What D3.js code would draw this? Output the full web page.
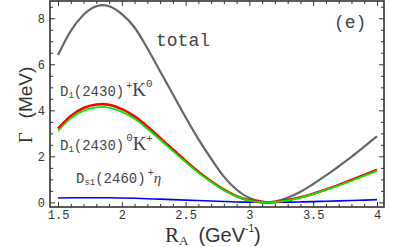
<!DOCTYPE html>
<html>
<head>
<meta charset="utf-8">
<script src="https://cdn.jsdelivr.net/npm/d3@7"></script>
<style>
  body { margin: 0; background: #fff; }
  svg { display: block; }
  .tick text { font-family: "Liberation Mono", "DejaVu Sans Mono", monospace; font-size: 12px; fill: #333; }
  .domain { display: none; }
  .tick line { stroke: #333; stroke-width: 1; }
</style>
</head>
<body>
<script>
var R = [1.5, 1.6, 1.7, 1.8, 1.85, 1.9, 2.0, 2.1, 2.2, 2.3, 2.4, 2.5, 2.6, 2.7, 2.8, 2.9, 3.0, 3.1, 3.15, 3.2, 3.3, 3.4, 3.5, 3.6, 3.7, 3.8, 3.9, 4.0];
var total = [6.4, 7.45, 8.15, 8.52, 8.57, 8.52, 8.18, 7.6, 6.7, 5.7, 4.7, 3.7, 2.75, 1.9, 1.12, 0.55, 0.19, 0.03, 0.0, 0.04, 0.2, 0.46, 0.8, 1.17, 1.57, 1.98, 2.42, 2.87];
var d1plus = [3.2, 3.75, 4.1, 4.25, 4.27, 4.24, 4.05, 3.74, 3.3, 2.8, 2.3, 1.8, 1.33, 0.92, 0.55, 0.27, 0.09, 0.01, 0.0, 0.02, 0.1, 0.22, 0.38, 0.56, 0.76, 0.97, 1.19, 1.42];
var d1zero = [3.1, 3.65, 3.99, 4.13, 4.15, 4.12, 3.93, 3.63, 3.2, 2.72, 2.23, 1.75, 1.29, 0.89, 0.53, 0.26, 0.08, 0.01, 0.0, 0.02, 0.09, 0.21, 0.36, 0.54, 0.73, 0.94, 1.15, 1.37];
var ds1 = [0.19, 0.2, 0.205, 0.205, 0.203, 0.2, 0.19, 0.18, 0.16, 0.14, 0.12, 0.1, 0.08, 0.06, 0.04, 0.02, 0.01, 0.002, 0.0, 0.003, 0.01, 0.02, 0.035, 0.05, 0.065, 0.08, 0.1, 0.12];
var xTicks = [1.5, 2, 2.5, 3, 3.5, 4];
var xTickLabels = ["1.5", "2", "2.5", "3", "3.5", "4"];
var yTicks = [0, 2, 4, 6, 8];

var width = 400, height = 247;
var pL = 50, pR = 384, pT = 1, pB = 207;

var x = d3.scaleLinear().domain([1.437, 4.055]).range([pL, pR]);
var y = d3.scaleLinear().domain([-0.2, 8.75]).range([pB, pT]);

var svg = d3.select("body").append("svg")
    .attr("width", width)
    .attr("height", height);

var xMinor = d3.range(15, 41).map(function(d){ return d / 10; }).filter(function(d){ return xTicks.indexOf(d) < 0; });
var yMinor = d3.range(0, 18).map(function(d){ return d / 2; }).filter(function(d){ return yTicks.indexOf(d) < 0; });

// bottom axis
svg.append("g").attr("transform", "translate(0," + pB + ")")
    .call(d3.axisBottom(x).tickValues(xTicks).tickSizeInner(-5).tickSizeOuter(0).tickPadding(3)
        .tickFormat(function(d, i){ return xTickLabels[i]; }));
svg.append("g").attr("transform", "translate(0," + pB + ")")
    .call(d3.axisBottom(x).tickValues(xMinor).tickSizeInner(-3).tickSizeOuter(0).tickFormat(""));
// top axis
svg.append("g").attr("transform", "translate(0," + pT + ")")
    .call(d3.axisTop(x).tickValues(xTicks).tickSizeInner(-5).tickSizeOuter(0).tickFormat(""));
svg.append("g").attr("transform", "translate(0," + pT + ")")
    .call(d3.axisTop(x).tickValues(xMinor).tickSizeInner(-3).tickSizeOuter(0).tickFormat(""));
// left axis
svg.append("g").attr("transform", "translate(" + pL + ",0)")
    .call(d3.axisLeft(y).tickValues(yTicks).tickSizeInner(-5).tickSizeOuter(0).tickPadding(5));
svg.append("g").attr("transform", "translate(" + pL + ",0)")
    .call(d3.axisLeft(y).tickValues(yMinor).tickSizeInner(-3).tickSizeOuter(0).tickFormat(""));
// right axis
svg.append("g").attr("transform", "translate(" + pR + ",0)")
    .call(d3.axisRight(y).tickValues(yTicks).tickSizeInner(-5).tickSizeOuter(0).tickFormat(""));
svg.append("g").attr("transform", "translate(" + pR + ",0)")
    .call(d3.axisRight(y).tickValues(yMinor).tickSizeInner(-3).tickSizeOuter(0).tickFormat(""));

// frame
svg.append("rect")
    .attr("x", pL).attr("y", pT)
    .attr("width", pR - pL).attr("height", pB - pT)
    .attr("fill", "none").attr("stroke", "#333").attr("stroke-width", 1.6);

var line = d3.line()
    .x(function(d, i){ return x(R[i]); })
    .y(function(d){ return y(d); })
    .curve(d3.curveMonotoneX);

var series = [
    { v: ds1, color: "#0000ff", w: 1.6 },
    { v: total, color: "#666666", w: 2.2 },
    { v: d1plus, color: "#ff0000", w: 2.6 },
    { v: d1zero, color: "#00ee00", w: 1.8 }
];
series.forEach(function(s){
    svg.append("path")
        .datum(s.v)
        .attr("fill", "none")
        .attr("stroke", s.color)
        .attr("stroke-width", s.w)
        .attr("d", line);
});

var mono = "'Liberation Mono', 'DejaVu Sans Mono', monospace";
var serif = "'Liberation Serif', 'DejaVu Serif', serif";
var sans = "'Liberation Sans', Arial, sans-serif";

function label(xp, yp){
    return svg.append("text").attr("x", xp).attr("y", yp).attr("fill", "#444")
        .attr("font-family", mono).attr("font-size", 14);
}

label(156, 46).attr("font-size", 18).text("total");
label(334, 28).attr("font-size", 18).text("(e)");

var t1 = label(60, 96);
t1.append("tspan").text("D");
t1.append("tspan").attr("font-size", 9).attr("dy", 2).text("1");
t1.append("tspan").attr("dy", -2).text("(2430)");
t1.append("tspan").attr("font-size", 10).attr("dy", -7).attr("dx", 2).text("+");
t1.append("tspan").attr("font-family", serif).attr("font-size", 19).attr("dy", 7).text("K");
t1.append("tspan").attr("font-size", 11).attr("dy", -9).text("0");

var t2 = label(60, 150);
t2.append("tspan").text("D");
t2.append("tspan").attr("font-size", 9).attr("dy", 2).text("1");
t2.append("tspan").attr("dy", -2).text("(2430)");
t2.append("tspan").attr("font-size", 11).attr("dy", -9).attr("dx", 2).text("0");
t2.append("tspan").attr("font-family", serif).attr("font-size", 19).attr("dy", 9).text("K");
t2.append("tspan").attr("font-size", 10).attr("dy", -8).text("+");

var t3 = label(76, 183);
t3.append("tspan").text("D");
t3.append("tspan").attr("font-size", 9).attr("dy", 2).text("s1");
t3.append("tspan").attr("dy", -2).text("(2460)");
t3.append("tspan").attr("font-size", 10).attr("dy", -7).attr("dx", 2).text("+");
t3.append("tspan").attr("font-family", serif).attr("font-style", "italic").attr("font-size", 15).attr("dy", 7).text("\u03b7");

// axis titles
var yt = svg.append("text").attr("transform", "translate(32,105) rotate(-90)")
    .attr("text-anchor", "middle").attr("fill", "#333");
yt.append("tspan").attr("font-family", serif).attr("font-size", 19).text("\u0393");
yt.append("tspan").attr("font-family", sans).attr("font-size", 19).attr("dx", 14).text("(MeV)");

var xt = svg.append("text").attr("x", 165).attr("y", 242).attr("fill", "#333");
xt.append("tspan").attr("font-family", serif).attr("font-size", 21).text("R");
xt.append("tspan").attr("font-family", serif).attr("font-size", 13).attr("dy", 3).text("A");
xt.append("tspan").attr("font-family", sans).attr("font-size", 20).attr("dy", -3).attr("dx", 10).text("(GeV");
xt.append("tspan").attr("font-family", sans).attr("font-size", 10).attr("dy", -10).text("-1");
xt.append("tspan").attr("font-family", sans).attr("font-size", 20).attr("dy", 10).text(")");
</script>
</body>
</html>
